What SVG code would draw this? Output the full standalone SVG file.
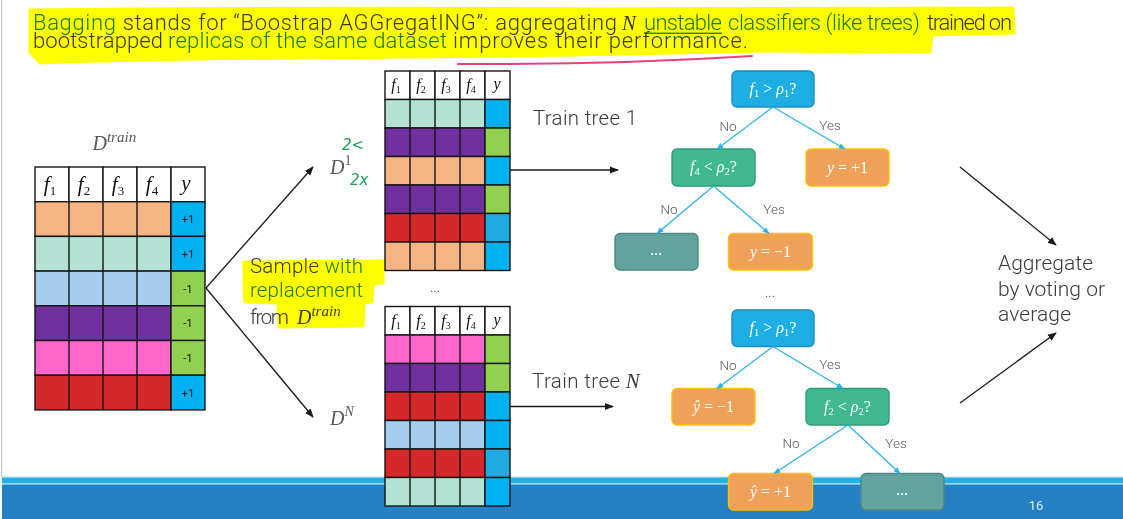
<svg xmlns="http://www.w3.org/2000/svg" width="1123" height="519" viewBox="0 0 1123 519">
  <defs>
    <style>
      .t { font-family: Roboto, "Liberation Sans", sans-serif; font-weight: 300; fill: #3A3A3A; }
      .m { font-family: "Liberation Serif", "DejaVu Serif", serif; font-style: italic; }
      .up { font-style: normal; }
      .blue { fill: #1F78C8; }
      .hl { fill: #FFFF00; stroke: #FFFF00; stroke-width: 3; stroke-linejoin: round; mix-blend-mode: multiply; }
      .ink { font-family: "DejaVu Sans", sans-serif; font-style: italic; fill: #1FA05A; font-size: 15px; }
      .cell { stroke: #151515; stroke-width: 1.4; }
      .hd { font-family: "Liberation Serif", "DejaVu Serif", serif; font-style: italic; fill: #111; text-anchor: middle; }
      .lbl { font-family: Roboto, "Liberation Sans", sans-serif; font-size: 11.5px; fill: #1a1a1a; text-anchor: middle; }
      .arr { stroke: #1a1a1a; stroke-width: 1.3; fill: none; marker-end: url(#ah); }
      .edge { stroke: #2DB2E8; stroke-width: 1.3; fill: none; marker-end: url(#tip); }
      .el { font-family: Roboto, "Liberation Sans", sans-serif; font-weight: 300; font-size: 13.5px; fill: #595959; text-anchor: middle; }
      .nt { font-family: "Liberation Serif", "DejaVu Serif", serif; font-style: italic; fill: #fff; font-size: 16px; text-anchor: middle; }
      .dec { fill: #1EAEE3; stroke: #1A8CBD; stroke-width: 1.4; }
      .split { fill: #40B990; stroke: #2F9C76; stroke-width: 1.4; }
      .leaf { fill: #EFA15A; stroke: #FFC000; stroke-width: 1.4; }
      .more { fill: #62A39E; stroke: #4C8884; stroke-width: 1.4; }
      .c-or { fill: #F4B484; } .c-mi { fill: #B4E3D6; } .c-lb { fill: #A5CDEE; }
      .c-pu { fill: #7030A0; } .c-pk { fill: #FF66CC; } .c-rd { fill: #D72829; }
      .c-bl { fill: #00B0F0; } .c-bl2 { fill: #1FABE2; } .c-gr { fill: #92D050; } .c-wh { fill: #fff; }
    </style>
    <marker id="ah" viewBox="0 0 10 10" refX="9" refY="5" markerWidth="9" markerHeight="9" markerUnits="userSpaceOnUse" orient="auto">
      <path d="M0,1 L10,5 L0,9 z" fill="#1a1a1a"/>
    </marker>
    <marker id="tip" viewBox="0 0 10 10" refX="9" refY="5" markerWidth="7" markerHeight="7" markerUnits="userSpaceOnUse" orient="auto">
      <path d="M0,1 L10,5 L0,9 z" fill="#2DB2E8"/>
    </marker>
  </defs>

  <rect x="0" y="0" width="1123" height="519" fill="#fff"/>
  <rect x="1" y="0" width="1.2" height="478" fill="#C8C8C8"/>

  <!-- slide footer band -->
  <g id="footer">
    <rect x="2" y="476.6" width="1121" height="0.9" fill="#C9D6DD"/>
    <rect x="2" y="477.5" width="1121" height="6" fill="#20B1E7"/>
    <rect x="2" y="483.5" width="1121" height="1" fill="#A6D8F1"/>
    <rect x="2" y="484.5" width="1121" height="34.5" fill="#2581C4"/>
    <text x="1036" y="510" font-family="Roboto, 'Liberation Sans', sans-serif" font-size="13" fill="#DCE8F3" text-anchor="middle">16</text>
  </g>

  <!-- heading with marker highlight -->
  <g id="title" font-size="22">
    <text class="t" x="33" y="30" textLength="584" lengthAdjust="spacing"><tspan class="blue">Bagging</tspan> stands for “Boostrap AGGregatING”: aggregating</text>
    <text class="t m" x="622" y="30" font-size="21" font-weight="400">N</text>
    <text class="t blue" x="644" y="30" textLength="78" lengthAdjust="spacing">unstable</text>
    <rect class="blue" x="644" y="32.6" width="78" height="1.3"/>
    <text class="t blue" x="728" y="30" textLength="192" lengthAdjust="spacing">classifiers (like trees)</text>
    <text class="t" x="927" y="30" textLength="85" lengthAdjust="spacing">trained on</text>
    <text class="t" x="33" y="47.5" textLength="130" lengthAdjust="spacing">bootstrapped</text>
    <text class="t blue" x="168" y="47.5" textLength="279" lengthAdjust="spacing">replicas of the same dataset</text>
    <text class="t" x="453" y="47.5" textLength="295" lengthAdjust="spacing">improves their performance.</text>
    <path class="hl" d="M30,10 Q300,7 600,9 L1013,8 L1014,33 L932,35 L930,52 L760,51 Q600,55 420,57 L300,58 Q150,59 40,63 L30,52 Z"/>
    <path d="M458,64 Q610,65 752,56" stroke="#E8407F" stroke-width="2" fill="none" stroke-linecap="round"/>
  </g>

  <!-- training set -->
  <g id="train-set">
    <text class="m" x="92.5" y="150" font-size="20" fill="#595959">D<tspan font-size="15" dy="-8">train</tspan></text>
    <g class="cell">
      <rect class="c-wh" x="35" y="167" width="34" height="34.7"/><rect class="c-wh" x="69" y="167" width="34" height="34.7"/><rect class="c-wh" x="103" y="167" width="34" height="34.7"/><rect class="c-wh" x="137" y="167" width="34" height="34.7"/><rect class="c-wh" x="171" y="167" width="34" height="34.7"/>
      <rect class="c-or" x="35" y="201.7" width="136" height="34.7"/><rect class="c-bl" x="171" y="201.7" width="34" height="34.7"/>
      <rect class="c-mi" x="35" y="236.4" width="136" height="34.7"/><rect class="c-bl" x="171" y="236.4" width="34" height="34.7"/>
      <rect class="c-lb" x="35" y="271.1" width="136" height="34.7"/><rect class="c-gr" x="171" y="271.1" width="34" height="34.7"/>
      <rect class="c-pu" x="35" y="305.8" width="136" height="34.7"/><rect class="c-gr" x="171" y="305.8" width="34" height="34.7"/>
      <rect class="c-pk" x="35" y="340.5" width="136" height="34.7"/><rect class="c-gr" x="171" y="340.5" width="34" height="34.7"/>
      <rect class="c-rd" x="35" y="375.2" width="136" height="34.7"/><rect class="c-bl" x="171" y="375.2" width="34" height="34.7"/>
      <path d="M69,201.7 V409.9 M103,201.7 V409.9 M137,201.7 V409.9" fill="none"/>
    </g>
    <g font-size="21">
      <text class="hd" x="50" y="191">f<tspan class="up" font-size="13" dy="4">1</tspan></text>
      <text class="hd" x="84" y="191">f<tspan class="up" font-size="13" dy="4">2</tspan></text>
      <text class="hd" x="118" y="191">f<tspan class="up" font-size="13" dy="4">3</tspan></text>
      <text class="hd" x="152" y="191">f<tspan class="up" font-size="13" dy="4">4</tspan></text>
      <text class="hd" x="186" y="190">y</text>
    </g>
    <text class="lbl" x="188" y="223">+1</text>
    <text class="lbl" x="188" y="258">+1</text>
    <text class="lbl" x="188" y="292.5">-1</text>
    <text class="lbl" x="188" y="327">-1</text>
    <text class="lbl" x="188" y="362">-1</text>
    <text class="lbl" x="188" y="396.5">+1</text>
  </g>

  <!-- sampling note -->
  <g id="sample-note" font-size="20.5">
    <text class="t" x="250" y="273" textLength="113" lengthAdjust="spacing">Sample <tspan class="blue">with</tspan></text>
    <text class="t blue" x="250" y="297" textLength="113" lengthAdjust="spacing">replacement</text>
    <text class="t" x="250" y="324" textLength="39" lengthAdjust="spacing">from</text>
    <text class="m" x="297" y="324" font-size="20" fill="#404040">D<tspan font-size="15" dy="-8">train</tspan></text>
    <path class="hl" d="M244,262 L383,261 L383,283 L373,284 L372,302 L364,303 L363,326 L279,327 L278,303 L245,302 L244,284 Z"/>
  </g>

  <!-- bootstrap replica 1 -->
  <g id="replica-1">
    <text class="m" x="330" y="174" font-size="20" fill="#595959">D<tspan class="up" font-size="14" dy="-9">1</tspan></text>
    <text class="ink" x="342" y="150">2&lt;</text>
    <text class="ink" x="350" y="185">2x</text>
    <g class="cell">
      <rect class="c-wh" x="385" y="71" width="25" height="28.5"/><rect class="c-wh" x="410" y="71" width="25" height="28.5"/><rect class="c-wh" x="435" y="71" width="25" height="28.5"/><rect class="c-wh" x="460" y="71" width="25" height="28.5"/><rect class="c-wh" x="485" y="71" width="25" height="28.5"/>
      <rect class="c-mi" x="385" y="99.5" width="100" height="28.5"/><rect class="c-bl" x="485" y="99.5" width="25" height="28.5"/>
      <rect class="c-pu" x="385" y="128" width="100" height="28.5"/><rect class="c-gr" x="485" y="128" width="25" height="28.5"/>
      <rect class="c-or" x="385" y="156.5" width="100" height="28.5"/><rect class="c-bl" x="485" y="156.5" width="25" height="28.5"/>
      <rect class="c-pu" x="385" y="185" width="100" height="28.5"/><rect class="c-gr" x="485" y="185" width="25" height="28.5"/>
      <rect class="c-rd" x="385" y="213.5" width="100" height="28.5"/><rect class="c-bl2" x="485" y="213.5" width="25" height="28.5"/>
      <rect class="c-or" x="385" y="242" width="100" height="28.5"/><rect class="c-bl" x="485" y="242" width="25" height="28.5"/>
      <path d="M410,99.5 V270.5 M435,99.5 V270.5 M460,99.5 V270.5" fill="none"/>
    </g>
    <g font-size="16">
      <text class="hd" x="396" y="90">f<tspan class="up" font-size="10" dy="3">1</tspan></text>
      <text class="hd" x="421" y="90">f<tspan class="up" font-size="10" dy="3">2</tspan></text>
      <text class="hd" x="446" y="90">f<tspan class="up" font-size="10" dy="3">3</tspan></text>
      <text class="hd" x="471" y="90">f<tspan class="up" font-size="10" dy="3">4</tspan></text>
      <text class="hd" x="497" y="89">y</text>
    </g>
  </g>

  <text class="t" x="435" y="292" font-size="14" text-anchor="middle">...</text>

  <!-- bootstrap replica N -->
  <g id="replica-n">
    <text class="m" x="330" y="425" font-size="20" fill="#595959">D<tspan font-size="14" dy="-9">N</tspan></text>
    <g class="cell">
      <rect class="c-wh" x="385" y="306.5" width="25" height="28.5"/><rect class="c-wh" x="410" y="306.5" width="25" height="28.5"/><rect class="c-wh" x="435" y="306.5" width="25" height="28.5"/><rect class="c-wh" x="460" y="306.5" width="25" height="28.5"/><rect class="c-wh" x="485" y="306.5" width="25" height="28.5"/>
      <rect class="c-pk" x="385" y="335" width="100" height="28.5"/><rect class="c-gr" x="485" y="335" width="25" height="28.5"/>
      <rect class="c-pu" x="385" y="363.5" width="100" height="28.5"/><rect class="c-gr" x="485" y="363.5" width="25" height="28.5"/>
      <rect class="c-rd" x="385" y="392" width="100" height="28.5"/><rect class="c-bl" x="485" y="392" width="25" height="28.5"/>
      <rect class="c-lb" x="385" y="420.5" width="100" height="28.5"/><rect class="c-bl" x="485" y="420.5" width="25" height="28.5"/>
      <rect class="c-rd" x="385" y="449" width="100" height="28.5"/><rect class="c-bl2" x="485" y="449" width="25" height="28.5"/>
      <rect class="c-mi" x="385" y="477.5" width="100" height="28.5"/><rect class="c-bl" x="485" y="477.5" width="25" height="28.5"/>
      <path d="M410,335 V506 M435,335 V506 M460,335 V506" fill="none"/>
    </g>
    <g font-size="16">
      <text class="hd" x="396" y="325.5">f<tspan class="up" font-size="10" dy="3">1</tspan></text>
      <text class="hd" x="421" y="325.5">f<tspan class="up" font-size="10" dy="3">2</tspan></text>
      <text class="hd" x="446" y="325.5">f<tspan class="up" font-size="10" dy="3">3</tspan></text>
      <text class="hd" x="471" y="325.5">f<tspan class="up" font-size="10" dy="3">4</tspan></text>
      <text class="hd" x="497" y="324.5">y</text>
    </g>
  </g>

  <text class="t" x="533" y="125" font-size="20.5" textLength="104" lengthAdjust="spacing">Train tree 1</text>
  <text class="t" x="532" y="388" font-size="20.5"><tspan textLength="88" lengthAdjust="spacing">Train tree</tspan><tspan class="m" font-weight="400" font-size="21"> N</tspan></text>

  <!-- tree 1 -->
  <g id="t1-root"><rect class="dec" x="732" y="71" width="82" height="36" rx="5"/>
    <text class="nt" x="773" y="94">f<tspan class="up" font-size="10.5" dy="3">1</tspan><tspan class="up" dy="-3"> &gt; </tspan>ρ<tspan class="up" font-size="10.5" dy="3">1</tspan><tspan class="up" dy="-3">?</tspan></text></g>
  <g id="t1-split"><rect class="split" x="672" y="149" width="83" height="37" rx="5"/>
    <text class="nt" x="713.5" y="172">f<tspan class="up" font-size="10.5" dy="3">4</tspan><tspan class="up" dy="-3"> &lt; </tspan>ρ<tspan class="up" font-size="10.5" dy="3">2</tspan><tspan class="up" dy="-3">?</tspan></text></g>
  <g id="t1-yes"><rect class="leaf" x="806" y="149" width="83" height="37" rx="5"/>
    <text class="nt" x="847.5" y="172.5">y<tspan class="up"> = +1</tspan></text></g>
  <g id="t1-more"><rect class="more" x="615" y="233.5" width="83" height="36.5" rx="5"/>
    <text class="nt up" x="656.5" y="255" font-size="12">...</text></g>
  <g id="t1-leaf"><rect class="leaf" x="728.5" y="233.5" width="84" height="36.5" rx="5"/>
    <text class="nt" x="770.5" y="257">y<tspan class="up"> = −1</tspan></text></g>

  <text class="t" x="770" y="297" font-size="14" text-anchor="middle">...</text>

  <!-- tree N -->
  <g id="tn-root"><rect class="dec" x="732" y="310" width="82" height="36.5" rx="5"/>
    <text class="nt" x="773" y="333">f<tspan class="up" font-size="10.5" dy="3">1</tspan><tspan class="up" dy="-3"> &gt; </tspan>ρ<tspan class="up" font-size="10.5" dy="3">1</tspan><tspan class="up" dy="-3">?</tspan></text></g>
  <g id="tn-leaf"><rect class="leaf" x="672" y="388.5" width="83" height="36.5" rx="5"/>
    <text class="nt" x="713.5" y="412">ŷ<tspan class="up"> = −1</tspan></text></g>
  <g id="tn-split"><rect class="split" x="806" y="388.5" width="83" height="36.5" rx="5"/>
    <text class="nt" x="847.5" y="411.5">f<tspan class="up" font-size="10.5" dy="3">2</tspan><tspan class="up" dy="-3"> &lt; </tspan>ρ<tspan class="up" font-size="10.5" dy="3">2</tspan><tspan class="up" dy="-3">?</tspan></text></g>
  <g id="tn-no"><rect class="leaf" x="728.5" y="473.5" width="84" height="36.5" rx="5"/>
    <text class="nt" x="770.5" y="497">ŷ<tspan class="up"> = +1</tspan></text></g>
  <g id="tn-more"><rect class="more" x="861" y="473.5" width="83" height="36.5" rx="5"/>
    <text class="nt up" x="902.5" y="495" font-size="12">...</text></g>

  <!-- aggregation label -->
  <g id="aggregate" font-size="21">
    <text class="t" x="998" y="270" textLength="95" lengthAdjust="spacing">Aggregate</text>
    <text class="t" x="998" y="295.5" textLength="107" lengthAdjust="spacing">by voting or</text>
    <text class="t" x="998" y="320.5" textLength="73" lengthAdjust="spacing">average</text>
  </g>

  <!-- connectors -->
  <g id="connectors">
    <path class="arr" d="M206,288 L313,167"/>
    <path class="arr" d="M206,288 L313,417"/>
    <path class="arr" d="M510,170 L618,170"/>
    <path class="arr" d="M510,406.5 L613,406.5"/>
    <path class="arr" d="M960,167 L1056,245"/>
    <path class="arr" d="M960,403 L1056,333"/>
    <path class="edge" d="M773,107 L717,149"/>
    <path class="edge" d="M773,107 L845,149"/>
    <path class="edge" d="M713.5,186 L657,233.5"/>
    <path class="edge" d="M713.5,186 L769,233.5"/>
    <path class="edge" d="M773,346.5 L717,388.5"/>
    <path class="edge" d="M773,346.5 L843,388.5"/>
    <path class="edge" d="M848,425 L774,473.5"/>
    <path class="edge" d="M848,425 L900,473.5"/>
    <text class="el" x="728" y="131">No</text>
    <text class="el" x="830" y="130">Yes</text>
    <text class="el" x="669" y="214">No</text>
    <text class="el" x="774" y="214">Yes</text>
    <text class="el" x="728" y="370">No</text>
    <text class="el" x="830" y="369">Yes</text>
    <text class="el" x="791" y="448">No</text>
    <text class="el" x="896" y="448">Yes</text>
  </g>
</svg>
